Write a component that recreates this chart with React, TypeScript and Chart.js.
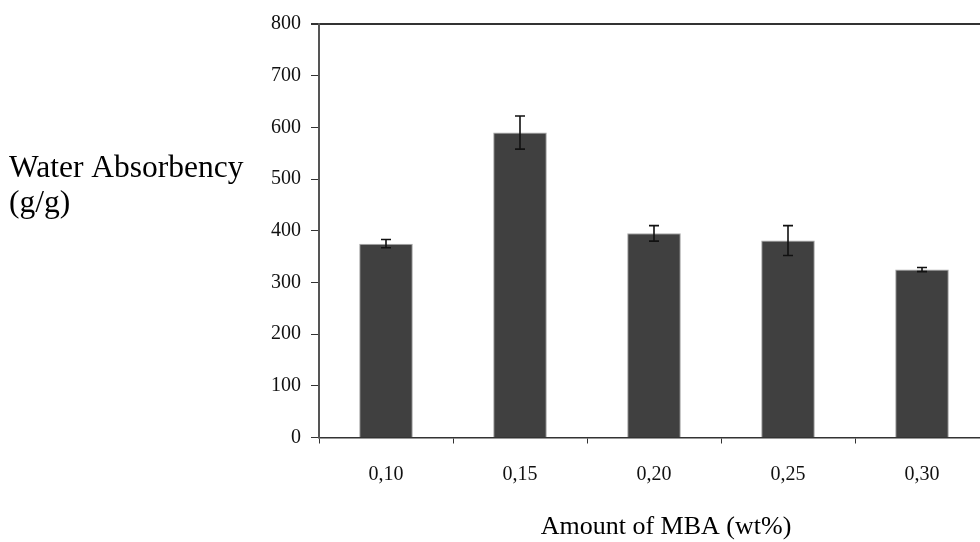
import React, { useEffect, useRef } from "react";
import { Chart, registerables } from "chart.js";

Chart.register(...registerables);

const categories = ["0,10", "0,15", "0,20", "0,25", "0,30"];
const absorbency = [375, 590, 395, 381, 325];
const errors = [8, 32, 15, 29, 4];
const yTitleLines = ["Water Absorbency", "(g/g)"];
const xTitle = "Amount of MBA (wt%)";

const errorBarPlugin = {
  id: "errorBars",
  afterDatasetsDraw(chart: any) {
    const { ctx } = chart;
    const meta = chart.getDatasetMeta(0);
    const y = chart.scales.y;
    ctx.save();
    ctx.strokeStyle = "#111";
    ctx.lineWidth = 1.6;
    meta.data.forEach((bar: any, i: number) => {
      const v = absorbency[i];
      const e = errors[i];
      const x = bar.x;
      const yt = y.getPixelForValue(v + e);
      const yb = y.getPixelForValue(v - e);
      ctx.beginPath();
      ctx.moveTo(x, yt);
      ctx.lineTo(x, yb);
      ctx.moveTo(x - 5, yt);
      ctx.lineTo(x + 5, yt);
      ctx.moveTo(x - 5, yb);
      ctx.lineTo(x + 5, yb);
      ctx.stroke();
    });
    ctx.restore();
  },
};

const titlesPlugin = {
  id: "titles",
  afterDraw(chart: any) {
    const { ctx } = chart;
    ctx.save();
    ctx.fillStyle = "#000";
    ctx.textBaseline = "alphabetic";
    ctx.font = '31.5px "Liberation Serif"';
    ctx.textAlign = "left";
    ctx.fillText(yTitleLines[0], 9, 177);
    ctx.fillText(yTitleLines[1], 9, 212);
    ctx.font = '26px "Liberation Serif"';
    ctx.textAlign = "center";
    ctx.fillText(xTitle, 666, 534);
    ctx.restore();
  },
};

export default function App() {
  const ref = useRef<HTMLCanvasElement | null>(null);
  useEffect(() => {
    if (!ref.current) return;
    const chart = new Chart(ref.current, {
      type: "bar",
      data: {
        labels: categories,
        datasets: [
          {
            data: absorbency,
            backgroundColor: "#404040",
            borderColor: "#a8a8a8",
            borderWidth: 1,
            categoryPercentage: 1,
            barPercentage: 0.4,
          },
        ],
      },
      options: {
        responsive: false,
        animation: false,
        layout: { padding: { left: 0, top: 24, right: 11, bottom: 0 } },
        plugins: { legend: { display: false }, tooltip: { enabled: false } },
        scales: {
          x: {
            offset: true,
            grid: {
              offset: true,
              color: "rgba(0,0,0,0)",
              tickColor: "#333",
              tickLength: 6,
              drawOnChartArea: false,
            },
            border: { color: "#333", width: 1.5 },
            ticks: {
              color: "#111",
              font: { family: '"Liberation Serif"', size: 20 },
              padding: 19,
            },
            afterFit(scale: any) {
              scale.height = 104.5;
            },
          },
          y: {
            min: 0,
            max: 800,
            ticks: {
              stepSize: 100,
              color: "#111",
              font: { family: '"Liberation Serif"', size: 20 },
              padding: 10,
            },
            grid: {
              color: (c: any) => (c.tick && c.tick.value === 800 ? "#333" : "rgba(0,0,0,0)"),
              lineWidth: (c: any) => (c.tick && c.tick.value === 800 ? 2 : 1),
              tickColor: "#333",
              tickLength: 8,
            },
            border: { color: "#555", width: 2 },
            afterFit(scale: any) {
              scale.width = 319;
            },
          },
        },
      },
      plugins: [errorBarPlugin, titlesPlugin],
    });
    return () => chart.destroy();
  }, []);
  return (
    <div
      style={{
        position: "fixed",
        left: 0,
        top: 0,
        width: 980,
        height: 542,
        overflow: "hidden",
        background: "#fff",
      }}
    >
      <canvas ref={ref} width={1000} height={542} style={{ display: "block" }} />
    </div>
  );
}
